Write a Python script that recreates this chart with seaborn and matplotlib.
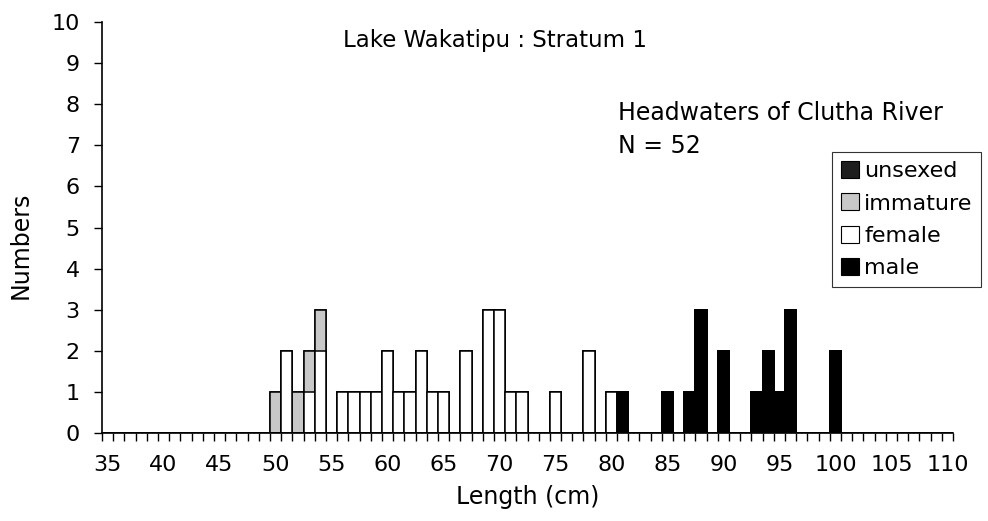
import numpy as np
import pandas as pd
import matplotlib
matplotlib.use("Agg")
import matplotlib.pyplot as plt
from matplotlib.patches import Patch
import seaborn as sns

# ---- data ----
lengths = list(range(35, 111))
x_tick_labels = [str(v) for v in range(35, 111, 5)]
series_names = ["unsexed", "immature", "female", "male"]
male_counts = {81: 1, 85: 1, 87: 1, 88: 3, 90: 2, 93: 1, 94: 2, 95: 1, 96: 3, 100: 2}
female_counts = {51: 2, 53: 1, 54: 2, 56: 1, 57: 1, 58: 1, 59: 1, 60: 2, 61: 1, 62: 1,
                 63: 2, 64: 1, 65: 1, 67: 2, 69: 3, 70: 3, 71: 1, 72: 1, 75: 1, 78: 2, 80: 1}
immature_counts = {50: 1, 52: 1, 53: 1, 54: 1}
unsexed_counts = {}

male = np.array([male_counts.get(v, 0) for v in lengths])
female = np.array([female_counts.get(v, 0) for v in lengths])
immature = np.array([immature_counts.get(v, 0) for v in lengths])
unsexed = np.array([unsexed_counts.get(v, 0) for v in lengths])

cats = [str(v) for v in lengths]
df = pd.DataFrame({
    "length": cats,
    "male": male,
    "male_female": male + female,
    "male_female_imm": male + female + immature,
    "total": male + female + immature + unsexed,
})

sns.set_style("ticks")
plt.rcParams["font.family"] = ["DejaVu Sans"]
plt.rcParams["text.color"] = "black"
plt.rcParams["xtick.color"] = "black"
plt.rcParams["ytick.color"] = "black"
plt.rcParams["axes.labelcolor"] = "black"

col_unsexed = "#1e1e1e"
col_immature = "#c8c8c8"
col_female = "#ffffff"
col_male = "#000000"

fig = plt.figure(figsize=(9.88, 5.21), dpi=100)
W, H = 988, 521
ax = fig.add_axes([102 / W, 1 - 433 / H, (953 - 102) / W, (433 - 22) / H])

common = dict(x="length", order=cats, width=1.0, saturation=1, errorbar=None,
              edgecolor="black", linewidth=1.1, ax=ax)
sns.barplot(data=df, y="total", color=col_unsexed, **common)
sns.barplot(data=df, y="male_female_imm", color=col_immature, **common)
sns.barplot(data=df, y="male_female", color=col_female, **common)
sns.barplot(data=df, y="male", color=col_male, **common)

ax.set_xlim(-0.5, len(cats) - 0.5)
ax.set_ylim(0, 10)
ax.set_yticks(range(0, 11))
ax.set_yticklabels([str(i) for i in range(0, 11)], fontsize=16, color="black")
label_pos = [cats.index(l) for l in x_tick_labels]
ax.set_xticks(label_pos)
ax.set_xticklabels(x_tick_labels, fontsize=16, color="black")
ax.set_xticks(np.arange(-0.5, len(cats)), minor=True)
ax.tick_params(axis="x", which="major", length=0, pad=16)
ax.tick_params(axis="x", which="minor", length=6, width=1, direction="out", color="black")
ax.tick_params(axis="y", length=6, width=1, direction="out", color="black", pad=10)
ax.set_xlabel("")
ax.set_ylabel("")
for s in ["top", "right"]:
    ax.spines[s].set_visible(False)
for s in ["left", "bottom"]:
    ax.spines[s].set_color("black")
    ax.spines[s].set_linewidth(1.2)

fig.text(343 / W, 1 - 40 / H, "Lake Wakatipu : Stratum 1", fontsize=16.5, ha="left", va="center")
fig.text(618 / W, 1 - 113 / H, "Headwaters of Clutha River", fontsize=17, ha="left", va="center")
fig.text(618 / W, 1 - 146 / H, "N = 52", fontsize=17, ha="left", va="center")
fig.text(21 / W, 1 - 245 / H, "Numbers", fontsize=17, rotation=90, ha="center", va="center")
fig.text(528 / W, 1 - 497 / H, "Length (cm)", fontsize=17, ha="center", va="center")

handles = [Patch(facecolor=c, edgecolor="black", linewidth=0.8)
           for c in [col_unsexed, col_immature, col_female, col_male]]
leg = fig.legend(handles, series_names, loc="upper left",
                 bbox_to_anchor=(832 / W, 1 - 152 / H), fontsize=16,
                 frameon=True, fancybox=False, handlelength=0.8, handleheight=0.8,
                 handletextpad=0.25, labelspacing=0.55, borderpad=0.4, borderaxespad=0)
leg.get_frame().set_edgecolor("black")
leg.get_frame().set_linewidth(0.8)
for t in leg.get_texts():
    t.set_color("black")

fig.savefig("out.png", dpi=100)
